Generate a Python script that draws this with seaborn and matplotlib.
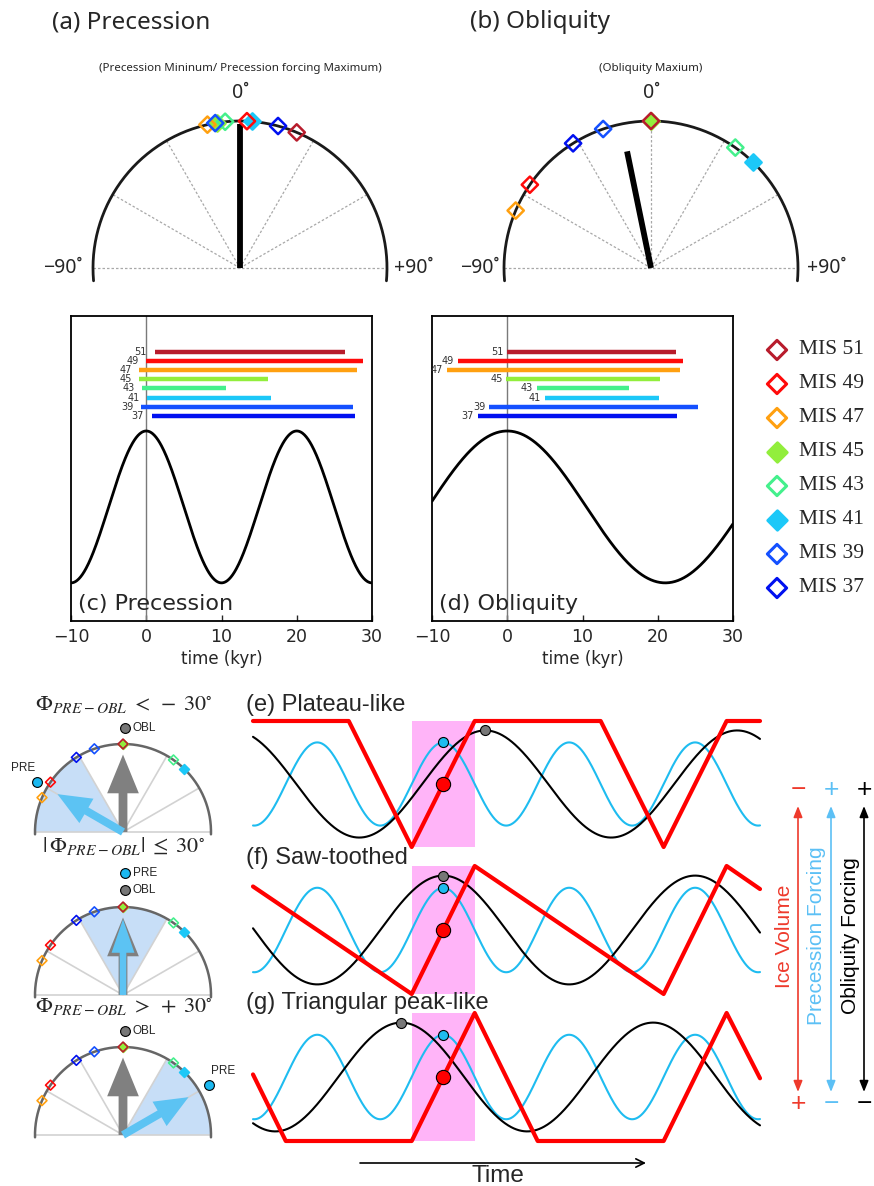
import numpy as np
import matplotlib
matplotlib.use("Agg")
import matplotlib.pyplot as plt
import seaborn as sns
from matplotlib import font_manager
from matplotlib.patches import Wedge, FancyArrow

# ---------------- data ----------------
MIS_STAGES = ["51", "49", "47", "45", "43", "41", "39", "37"]
MIS_COLORS = ["#b81c2c", "#ff0a0a", "#ffa010", "#92ee3c", "#44f08c", "#1cc8f8", "#1450ff", "#0010f0"]
MIS_FILLED = [False, False, False, True, False, True, False, False]

# phase (degrees) of each stage relative to precession minimum / obliquity maximum
PREC_PHASE = [22.7, 2.7, -12.8, -9.0, -5.8, 4.6, -9.7, 15.0]
OBL_PHASE = [0.0, -55.5, -67.0, 0.0, 35.0, 44.0, -19.0, -32.0]
PREC_MEAN_ANGLE, PREC_MEAN_LENGTH = 0.0, 0.98
OBL_MEAN_ANGLE, OBL_MEAN_LENGTH = -11.6, 0.81

# stage durations (kyr, relative to the forcing peak)
PREC_START = [1.1, 0.0, -0.9, -0.9, -0.5, 0.1, -0.7, 0.7]
PREC_END = [26.4, 28.8, 28.0, 16.2, 10.6, 16.6, 27.5, 27.7]
OBL_START = [0.0, -6.6, -8.0, -0.1, 3.9, 5.0, -2.4, -3.9]
OBL_END = [22.4, 23.3, 23.0, 20.3, 16.2, 20.1, 25.3, 22.6]

# idealised forcing cycles (kyr)
PREC_PERIOD_C = 20.0
OBL_PERIOD_D = 42.0
CURVE_MEAN, CURVE_AMP = 0.374, 0.249

# schematic scenarios (e)-(g)
SCHEME_PREC_PERIOD = 20.0
SCHEME_OBL_PERIOD = 40.0
PHASE_DIFF = [-60.0, 0.0, 60.0]          # PRE - OBL phase difference (degrees)
SCHEME_TITLES = ["(e) Plateau-like", "(f) Saw-toothed", "(g) Triangular peak-like"]
PLATEAU_T = [-30.2, -15, -5, 5, 25, 35, 45, 50.3]
PLATEAU_V = [1, 1, 0, 1, 1, 0, 1, 1]
SAW_T = [-30.2, -5, 5, 35, 45, 50.3]
SAW_V = [0.84, 0, 1, 0, 1, 0.82]
TRI_T = [-30.2, -25, -5, 5, 15, 35, 45, 50.3]
TRI_V = [0.52, 0, 0, 1, 0, 0, 1, 0.49]
SCHEME_ICE = [(PLATEAU_T, PLATEAU_V), (SAW_T, SAW_V), (TRI_T, TRI_V)]

# ---------------- style ----------------
sns.set_theme(style="white")
plt.rcParams["font.family"] = ["Liberation Sans", "DejaVu Sans"]
plt.rcParams["mathtext.fontset"] = "stix"
_names = {f.name for f in font_manager.fontManager.ttflist}
NARROW = "Liberation Sans Narrow" if "Liberation Sans Narrow" in _names else "DejaVu Sans"
HUMANIST = "Noto Sans" if "Noto Sans" in _names else "DejaVu Sans"

W, H = 874, 1186
fig = plt.figure(figsize=(W / 100, H / 100), dpi=100)


def px_axes(x0, y0, x1, y1):
    return fig.add_axes([x0 / W, 1 - y1 / H, (x1 - x0) / W, (y1 - y0) / H])


def polar_axes(cx, cy, r, x0, y0, x1, y1):
    ax = px_axes(x0, y0, x1, y1)
    ax.set_xlim((x0 - cx) / r, (x1 - cx) / r)
    ax.set_ylim((cy - y1) / r, (cy - y0) / r)
    ax.axis("off")
    return ax


def on_arc(deg, rad=1.0):
    a = np.deg2rad(np.asarray(deg, dtype=float))
    return rad * np.sin(a), rad * np.cos(a)


def draw_arc(ax, color, lw, extend):
    th = np.linspace(-90 - extend, 90 + extend, 300)
    xs, ys = on_arc(th)
    sns.lineplot(x=xs, y=ys, sort=False, estimator=None, color=color, lw=lw, ax=ax)


def draw_diamonds(ax, phases, ms, lw):
    order = [i for i in range(8) if MIS_FILLED[i]] + [i for i in range(8) if not MIS_FILLED[i]]
    for i in order:
        x, y = on_arc(phases[i])
        c = MIS_COLORS[i]
        sns.scatterplot(x=[x], y=[y], marker="D", s=ms ** 2,
                        color=c if MIS_FILLED[i] else "none", edgecolor=c,
                        linewidth=lw, ax=ax, zorder=6, clip_on=False, legend=False)


# ---------------- (a), (b) phase wheels ----------------
def phase_wheel(cx, phases, mean_angle, mean_len, subtitle, left_lab_x, right_lab_x):
    ax = polar_axes(cx, 268, 147, cx - 215, 40, cx + 215, 295)
    draw_arc(ax, "#1a1a1a", 2.0, 5)
    for th in [-60, -30, 0, 30, 60]:
        x, y = on_arc(th)
        ax.plot([0, x], [0, y], color="#a8a8a8", lw=0.9, ls=(0, (2, 1.6)), zorder=1)
    ax.plot([-1, 1], [0, 0], color="#a8a8a8", lw=0.9, ls=(0, (2, 1.6)), zorder=1)
    mx, my = on_arc(mean_angle, mean_len)
    ax.plot([0, mx], [0, my], color="black", lw=4.2, solid_capstyle="butt", zorder=4)
    draw_diamonds(ax, phases, 8.3, 1.8)
    ax.text(0, 1.19, "0˚", ha="center", va="center", fontsize=14, family=HUMANIST)
    ax.text(0, 1.36, subtitle, ha="center", va="center", fontsize=8.3, family=HUMANIST)
    ax.text(left_lab_x, 0.0, "−90˚", ha="right", va="center", fontsize=14, family=HUMANIST)
    ax.text(right_lab_x, 0.0, "+90˚", ha="left", va="center", fontsize=14, family=HUMANIST)
    return ax


phase_wheel(240, PREC_PHASE, PREC_MEAN_ANGLE, PREC_MEAN_LENGTH,
            "(Precession Mininum/ Precession forcing Maximum)", -1.07, 1.05)
phase_wheel(651, OBL_PHASE, OBL_MEAN_ANGLE, OBL_MEAN_LENGTH,
            "(Obliquity Maxium)", -1.03, 1.06)


# ---------------- (c), (d) durations ----------------
def forcing_panel(x0, period, starts, ends, gap, title):
    ax = px_axes(x0, 316, x0 + 301, 621)
    t = np.linspace(-10, 30, 500)
    sns.lineplot(x=t, y=CURVE_MEAN + CURVE_AMP * np.cos(2 * np.pi * t / period),
                 color="black", lw=2.0, ax=ax)
    ax.axvline(0, color="#7a7a7a", lw=1.0, zorder=1)
    for i, st in enumerate(MIS_STAGES):
        y = 0.882 - 0.0299 * i
        ax.hlines(y, starts[i], ends[i], color=MIS_COLORS[i], lw=3.2, zorder=3)
        ax.text(starts[i] - gap, y, st, ha="right", va="center", fontsize=7,
                color="#333333", family=NARROW)
    ax.set_xlim(-10, 30)
    ax.set_ylim(0, 1)
    ax.set_xticks([-10, 0, 10, 20, 30])
    ax.set_yticks([])
    ax.tick_params(axis="x", direction="in", length=4, width=1, labelsize=12.5, pad=5, bottom=True)
    for lab in ax.get_xticklabels():
        lab.set_family(NARROW)
    for s in ax.spines.values():
        s.set_color("black")
        s.set_linewidth(1.3)
    ax.set_xlabel("time (kyr)", fontsize=12, family=NARROW, labelpad=3)
    ax.text(-9.1, 0.056, title, fontsize=16, va="center", family=NARROW)
    return ax


forcing_panel(71, PREC_PERIOD_C, PREC_START, PREC_END, 1.0, "(c) Precession")
forcing_panel(432, OBL_PERIOD_D, OBL_START, OBL_END, 0.5, "(d) Obliquity")

# ---------------- small wheels for the three scenarios ----------------
SMALL_CY = [832, 995, 1135]
WEDGES = [(-90, -30), (-30, 30), (30, 90)]
for k, cy in enumerate(SMALL_CY):
    ax = polar_axes(123, cy, 88, 8, cy - 135, 238, cy + 8)
    lo, hi = WEDGES[k]
    ax.add_patch(Wedge((0, 0), 1, 90 - hi, 90 - lo, facecolor="#c7def7", edgecolor="none", zorder=0))
    for th in [-60, -30, 30, 60]:
        x, y = on_arc(th)
        ax.plot([0, x], [0, y], color="#d2d2d2", lw=1.2, zorder=1)
    ax.plot([-1, 1], [0, 0], color="#d2d2d2", lw=1.2, zorder=1)
    draw_arc(ax, "#666666", 1.8, 1.5)
    draw_diamonds(ax, OBL_PHASE, 5.0, 1.2)
    phi = PHASE_DIFF[k]
    ax.add_patch(FancyArrow(0, 0, 0, 0.88, width=0.1, head_width=0.36, head_length=0.44,
                            length_includes_head=True, color="#808080", lw=0, zorder=3))
    bx, by = on_arc(phi, 0.86)
    bw, bhw = (0.075, 0.26) if phi == 0 else (0.09, 0.32)
    ax.add_patch(FancyArrow(0, 0, bx, by, width=bw, head_width=bhw, head_length=0.38,
                            length_includes_head=True, color="#5cc3f3", lw=0, zorder=4))
    if phi == 0:
        dots = [(0.02, 1.39, "#1ab8f0", "PRE"), (0.02, 1.19, "#777777", "OBL")]
    else:
        px_, py_ = on_arc(phi, 1.13)
        dots = [(0.02, 1.18, "#777777", "OBL"), (px_, py_, "#1ab8f0", None)]
        ax.text(px_ + np.sign(phi) * 0.16, py_ + 0.16, "PRE", ha="center", va="center", fontsize=8.5)
    for dx, dy, dc, lab in dots:
        sns.scatterplot(x=[dx], y=[dy], s=50, color=dc, edgecolor="black", linewidth=0.8,
                        ax=ax, zorder=7, clip_on=False, legend=False)
        if lab:
            ax.text(dx + 0.09, dy, lab, ha="left", va="center", fontsize=8.5)

# ---------------- (e)-(g) schematic time series ----------------
ROWS = [(721, 847), (866, 994), (1013, 1141)]
t = np.linspace(-30.2, 50.3, 800)
for k, (y0, y1) in enumerate(ROWS):
    ax = px_axes(253, y0, 760, y1)
    ax.set_xlim(-30.2, 50.3)
    ax.set_ylim(0, 1)
    ax.axis("off")
    ax.axvspan(-5, 5, ymin=0, ymax=1, color="#ffb4f8", lw=0, zorder=0)
    obl_peak = -PHASE_DIFF[k] / 360.0 * SCHEME_OBL_PERIOD
    prec = 0.5 + 0.33 * np.cos(2 * np.pi * t / SCHEME_PREC_PERIOD)
    obl = 0.5 + 0.425 * np.cos(2 * np.pi * (t - obl_peak) / SCHEME_OBL_PERIOD)
    sns.lineplot(x=t, y=prec, color="#1ebcf0", lw=1.5, ax=ax, zorder=2)
    sns.lineplot(x=t, y=obl, color="black", lw=1.5, ax=ax, zorder=2)
    it, iv = SCHEME_ICE[k]
    sns.lineplot(x=it, y=iv, sort=False, estimator=None, color="#ff0000", lw=3.0, ax=ax, zorder=3)
    for ln in ax.lines:
        ln.set_clip_on(False)
    sns.scatterplot(x=[obl_peak], y=[0.925], s=52, color="#777777", edgecolor="black",
                    linewidth=0.8, ax=ax, zorder=6, clip_on=False, legend=False)
    sns.scatterplot(x=[0.0], y=[0.83], s=52, color="#1ebcf0", edgecolor="black",
                    linewidth=0.8, ax=ax, zorder=6, clip_on=False, legend=False)
    sns.scatterplot(x=[0.0], y=[0.5], s=105, color="#ff0000", edgecolor="black",
                    linewidth=0.8, ax=ax, zorder=6, clip_on=False, legend=False)

# ---------------- overlay: titles, legend, arrows ----------------
ov = fig.add_axes([0, 0, 1, 1])
ov.set_xlim(0, W)
ov.set_ylim(H, 0)
ov.axis("off")
ov.patch.set_visible(False)

ov.text(52, 22, "(a) Precession", fontsize=17.5, va="center", family=HUMANIST)
ov.text(470, 22, "(b) Obliquity", fontsize=17.5, va="center", family=HUMANIST)

for i, st in enumerate(MIS_STAGES):
    y = 350 + 34 * i
    c = MIS_COLORS[i]
    sns.scatterplot(x=[777], y=[y], marker="D", s=9.8 ** 2, color=c if MIS_FILLED[i] else "none",
                    edgecolor=c, linewidth=2.2, ax=ov, legend=False, clip_on=False)
    ov.text(799, y, f"MIS {st}", fontsize=15.5, va="center", family="Liberation Serif")
ov.set_xlim(0, W)
ov.set_ylim(H, 0)

SMALL_TITLES = [r"$\Phi_{PRE-OBL}\;<\;-\;30^{\circ}$",
                r"$|\,\Phi_{PRE-OBL}|\;\leq\;30^{\circ}$",
                r"$\Phi_{PRE-OBL}\;>\;+\;30^{\circ}$"]
for ttl, ty in zip(SMALL_TITLES, [705, 846, 1007]):
    ov.text(124, ty, ttl, fontsize=16, ha="center", va="center")

for ttl, ty in zip(SCHEME_TITLES, [705, 858, 1003]):
    ov.text(246, ty, ttl, fontsize=17, va="center")

ov.annotate("", xy=(646, 1163), xytext=(360, 1163),
            arrowprops=dict(arrowstyle="->,head_length=0.5,head_width=0.25", lw=1.2, color="black",
                            shrinkA=0, shrinkB=0))
ov.text(498, 1176, "Time", fontsize=17.5, ha="center", va="center")

SIDE = [(798, "#ee3a2c", "Ice Volume", "−", "+"),
        (831, "#5cc0f5", "Precession Forcing", "+", "−"),
        (864, "#000000", "Obliquity Forcing", "+", "−")]
for x, c, lab, top, bot in SIDE:
    ov.annotate("", xy=(x, 806), xytext=(x, 1092),
                arrowprops=dict(arrowstyle="<|-|>,head_length=0.55,head_width=0.22", lw=1.2,
                                color=c, shrinkA=0, shrinkB=0))
    ov.text(x, 790, top, color=c, fontsize=19, ha="center", va="center")
    ov.text(x, 1104, bot, color=c, fontsize=19, ha="center", va="center")
    ov.text(x - 14, 936, lab, color=c, fontsize=15, rotation=90, ha="center", va="center")

fig.savefig("out.png", dpi=100)
